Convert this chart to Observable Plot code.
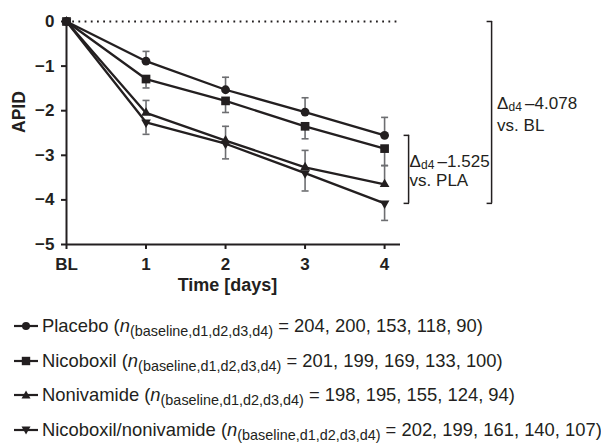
<!DOCTYPE html>
<html>
<head>
<meta charset="utf-8">
<script src="https://cdn.jsdelivr.net/npm/d3@7"></script>
<script src="https://cdn.jsdelivr.net/npm/@observablehq/plot@0.6"></script>
<style>
  body { margin: 0; background: #fff; font-family: "Liberation Sans", Arial, sans-serif; color: #231f20; }
  #wrap { width: 601px; height: 444px; overflow: hidden; position: relative; }
  #chart svg { display: block; }
  #legend { padding-top: 9px; }
  .row { height: 34.6px; display: flex; align-items: center; font-size: 18.4px; white-space: nowrap; }
  .row svg { margin-left: 14px; margin-right: 4px; flex: none; }
  .sub { font-size: 14.4px; position: relative; top: 4px; }
</style>
</head>
<body>
<div id="wrap">
  <div id="chart"></div>
  <div id="legend"></div>
</div>
<script>
// ---- data ----
const timePoints = [0, 1, 2, 3, 4];
const timeLabels = ["BL", "1", "2", "3", "4"];
const yTicks = [0, -1, -2, -3, -4, -5];
const seriesNames = ["Placebo", "Nicoboxil", "Nonivamide", "Nicoboxil/nonivamide"];
const placebo    = [0, -0.89, -1.53, -2.03, -2.553];
const nicoboxil  = [0, -1.29, -1.78, -2.35, -2.85];
const nonivamide = [0, -2.05, -2.67, -3.27, -3.65];
const combo      = [0, -2.26, -2.74, -3.40, -4.078];
// error bar end values (placebo & nonivamide upward, others downward)
const placeboErr    = [null, -0.67, -1.25, -1.71, -2.15];
const nicoboxilErr  = [null, -1.49, -2.04, -2.63, -3.23];
const nonivamideErr = [null, -1.77, -2.35, -2.89, -3.23];
const comboErr      = [null, -2.53, -3.08, -3.80, -4.46];
const nPlacebo    = [204, 200, 153, 118, 90];
const nNicoboxil  = [201, 199, 169, 133, 100];
const nNonivamide = [198, 195, 155, 124, 94];
const nCombo      = [202, 199, 161, 140, 107];
const deltaVsBL  = -4.078;
const deltaVsPLA = -1.525;
const xTitle = "Time [days]";
const yTitle = "APID";

// ---- build tables ----
const valuesBy = [placebo, nicoboxil, nonivamide, combo];
const errsBy = [placeboErr, nicoboxilErr, nonivamideErr, comboErr];
const data = [];
const errs = [];
seriesNames.forEach((s, si) => {
  timePoints.forEach((t, i) => {
    data.push({series: s, t, v: valuesBy[si][i]});
    if (errsBy[si][i] != null) errs.push({series: s, t, v: valuesBy[si][i], e: errsBy[si][i]});
  });
});
const bySeries = s => data.filter(d => d.series === s);

const ink = "#231f20";
const capSymbol = {draw(ctx) { ctx.moveTo(-3.5, 0); ctx.lineTo(3.5, 0); }};
const leftTick = {draw(ctx) { ctx.moveTo(-5, 0); ctx.lineTo(0.5, 0); }};

function bracket(y1, y2, dx) {
  return [
    Plot.ruleX([0], {x: () => 4, y1: () => y1, y2: () => y2, dx, stroke: ink, strokeWidth: 1.5}),
    Plot.dot([y1, y2], {x: () => 4, y: d => d, dx, symbol: leftTick, stroke: ink, fill: "none", strokeWidth: 1.5})
  ];
}

function annot(yv, dx, dy1, dy2, value, line2) {
  const base = {x: () => 4, y: () => yv, textAnchor: "start", fill: ink};
  return [
    Plot.text([0], {...base, text: () => "Δ", dx, dy: dy1, fontSize: 17}),
    Plot.text([0], {...base, text: () => "d4", dx: dx + 11.5, dy: dy1 + 4, fontSize: 12}),
    Plot.text([0], {...base, text: () => "–" + Math.abs(value).toFixed(3), dx: dx + 28, dy: dy1, fontSize: 17}),
    Plot.text([0], {...base, text: () => line2, dx, dy: dy2, fontSize: 17})
  ];
}

const chart = Plot.plot({
  width: 601,
  height: 300,
  marginLeft: 66,
  marginRight: 201,
  marginTop: 21,
  marginBottom: 56,
  x: {domain: [0, 4.2], axis: null},
  y: {domain: [-5, 0], axis: null},
  style: {fontFamily: "'Liberation Sans', Arial, sans-serif", color: ink, background: "white", overflow: "visible"},
  marks: [
    // dotted zero line
    Plot.ruleY([0], {x1: 0, x2: 4.2, stroke: ink, strokeWidth: 2, strokeDasharray: "1.8,4.4"}),
    // axes
    Plot.axisY({ticks: yTicks, tickFormat: d3.format("d"), label: null, tickSize: 5, tickPadding: 7, fontSize: 17, fontWeight: "bold", strokeWidth: 2, stroke: ink}),
    Plot.axisX({ticks: timePoints, tickFormat: d => timeLabels[timePoints.indexOf(d)], label: null, tickSize: 5, tickPadding: 8, fontSize: 17, fontWeight: "bold", strokeWidth: 2, stroke: ink}),
    Plot.ruleX([0], {y1: -5, y2: 0, stroke: ink, strokeWidth: 2}),
    Plot.ruleY([-5], {x1: 0, x2: 4.2, stroke: ink, strokeWidth: 2}),
    Plot.text([xTitle], {text: d => d, frameAnchor: "bottom", dy: 46, dx: -6, fontSize: 18, fontWeight: "bold", fill: ink}),
    Plot.text([yTitle], {text: d => d, frameAnchor: "left", dx: -47, rotate: -90, fontSize: 17.5, fontWeight: "bold", fill: ink}),
    // error bars
    Plot.ruleX(errs, {x: "t", y1: "v", y2: "e", stroke: "#6d6e71", strokeWidth: 1.6}),
    Plot.dot(errs, {x: "t", y: "e", symbol: capSymbol, stroke: "#6d6e71", fill: "none", strokeWidth: 1.6}),
    // lines
    Plot.line(data, {x: "t", y: "v", z: "series", stroke: ink, strokeWidth: 2.3}),
    // markers
    Plot.dot(bySeries(seriesNames[0]), {x: "t", y: "v", symbol: "circle", r: 4.4, fill: ink, stroke: "none"}),
    Plot.dot(bySeries(seriesNames[1]), {x: "t", y: "v", symbol: "square", r: 4.9, fill: ink, stroke: "none"}),
    Plot.dot(bySeries(seriesNames[2]), {x: "t", y: "v", symbol: "triangle", r: 3.6, fill: ink, stroke: "none"}),
    Plot.dot(bySeries(seriesNames[3]), {x: "t", y: "v", symbol: "triangle", r: 3.6, rotate: 180, fill: ink, stroke: "none"}),
    // brackets
    ...bracket(placebo[4], combo[4], 24),
    ...bracket(0, combo[4], 107),
    ...annot(deltaVsBL / 2, 112.5, -9, 13, deltaVsBL, "vs. BL"),
    ...annot((placebo[4] + combo[4]) / 2, 25, -8, 11, deltaVsPLA, "vs. PLA")
  ]
});
document.getElementById("chart").appendChild(chart);

// ---- legend ----
const nBy = [nPlacebo, nNicoboxil, nNonivamide, nCombo];
const legendSym = ["circle", "square", "up", "down"];
function symSvg(kind) {
  let m = "";
  if (kind === "circle") m = '<circle cx="12" cy="7" r="4" fill="' + ink + '"/>';
  if (kind === "square") m = '<rect x="7.8" y="2.8" width="8.4" height="8.4" fill="' + ink + '"/>';
  if (kind === "up") m = '<path d="M12,2.5L16.5,10.5L7.5,10.5Z" fill="' + ink + '"/>';
  if (kind === "down") m = '<path d="M12,11.5L16.5,3.5L7.5,3.5Z" fill="' + ink + '"/>';
  return '<svg width="24" height="14"><line x1="0" y1="7" x2="24" y2="7" stroke="' + ink + '" stroke-width="2.2"/>' + m + '</svg>';
}
const legend = document.getElementById("legend");
seriesNames.forEach((s, i) => {
  const row = document.createElement("div");
  row.className = "row";
  row.innerHTML = symSvg(legendSym[i]) + '<span>' + s + ' (<i>n</i><span class="sub">(baseline,d1,d2,d3,d4)</span> = ' + nBy[i].join(", ") + ')</span>';
  legend.appendChild(row);
});
</script>
</body>
</html>
